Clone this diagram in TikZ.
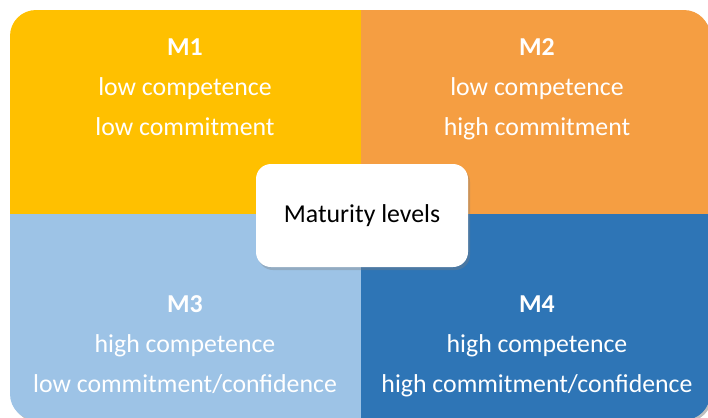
\documentclass[tikz,border=0pt]{standalone}
\usepackage{fontspec}
\setmainfont{Carlito}
\usetikzlibrary{shadows}

\definecolor{mone}{RGB}{255,192,0}
\definecolor{mtwo}{RGB}{245,158,66}
\definecolor{mthree}{RGB}{157,195,230}
\definecolor{mfour}{RGB}{46,117,182}

\begin{document}
\begin{tikzpicture}[
    x=1bp, y=-1bp,
    label/.style={text=white, anchor=base, inner sep=0pt, font=\fontsize{25.8bp}{30bp}\selectfont},
    title/.style={label, font=\fontsize{25.8bp}{30bp}\selectfont\bfseries},
    centre/.style={fill=white, rounded corners=15bp, minimum width=212bp, minimum height=103bp,
        font=\fontsize{25.8bp}{30bp}\selectfont,
        drop shadow={shadow xshift=2bp, shadow yshift=-3bp, opacity=0.35}}
]
\useasboundingbox (0,0) rectangle (708,417);

% Outer shadow
\fill[black, opacity=0.25, rounded corners=26bp] (12,13) rectangle (712,422);

% Quadrants
\begin{scope}
    \clip[rounded corners=26bp] (10,10) rectangle (710,420);
    \fill[mone] (10,10) rectangle (361,214);
    \fill[mtwo] (361,10) rectangle (710,214);
    \fill[mthree] (10,214) rectangle (361,420);
    \fill[mfour] (361,214) rectangle (710,420);
\end{scope}

% Texts
\node[title] (m1) at (185,55) {M1};
\node[label] (m1a) at (185,95) {low competence};
\node[label] (m1b) at (185,135) {low commitment};

\node[title] (m2) at (537,55) {M2};
\node[label] (m2a) at (537,95) {low competence};
\node[label] (m2b) at (537,135) {high commitment};

\node[title] (m3) at (185,312) {M3};
\node[label] (m3a) at (185,352) {high competence};
\node[label] (m3b) at (185,392) {low commitment/confidence};

\node[title] (m4) at (537,312) {M4};
\node[label] (m4a) at (537,352) {high competence};
\node[label] (m4b) at (537,392) {high commitment/confidence};

% Centre
\node[centre] (levels) at (362,215.5) {Maturity levels};

\end{tikzpicture}
\end{document}
